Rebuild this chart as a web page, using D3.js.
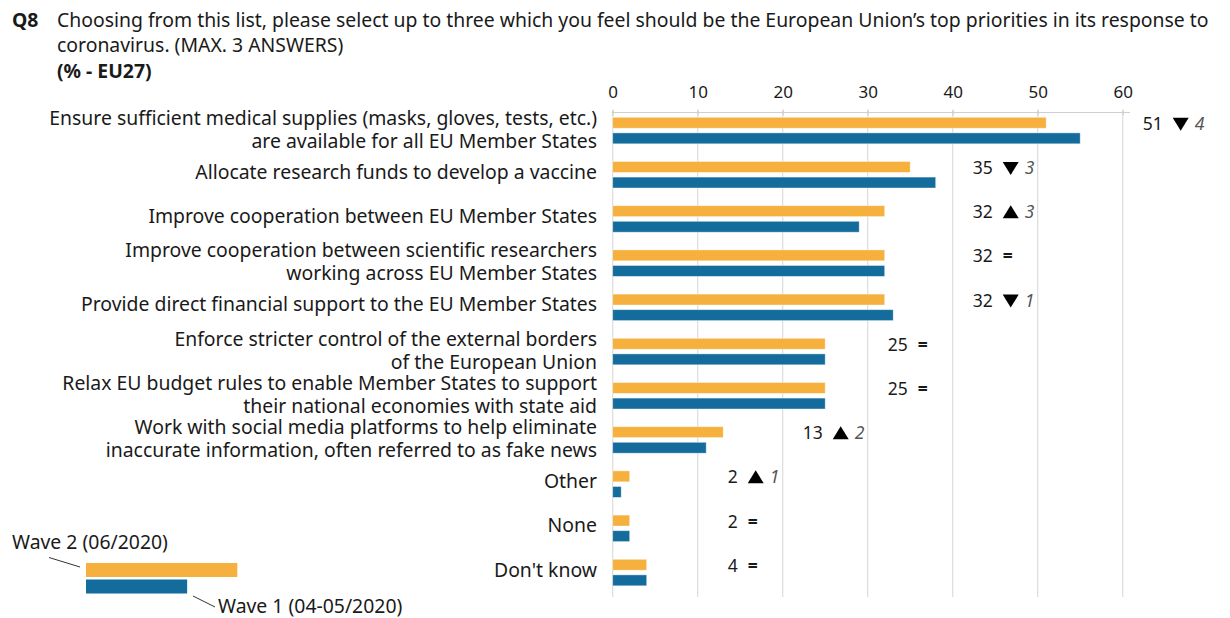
<!DOCTYPE html>
<html>
<head>
<meta charset="utf-8">
<script src="https://cdn.jsdelivr.net/npm/d3@7"></script>
<style>
  html, body { margin: 0; padding: 0; background: #ffffff; }
  svg { display: block; font-family: "Noto Sans", "Open Sans", sans-serif; }
</style>
</head>
<body>
<svg id="chart" width="1230" height="618"></svg>
<script>
// ---------- data ----------
const categories = [
  ["Ensure sufficient medical supplies (masks, gloves, tests, etc.)", "are available for all EU Member States"],
  ["Allocate research funds to develop a vaccine"],
  ["Improve cooperation between EU Member States"],
  ["Improve cooperation between scientific researchers", "working across EU Member States"],
  ["Provide direct financial support to the EU Member States"],
  ["Enforce stricter control of the external borders", "of the European Union"],
  ["Relax EU budget rules to enable Member States to support", "their national economies with state aid"],
  ["Work with social media platforms to help eliminate", "inaccurate information, often referred to as fake news"],
  ["Other"],
  ["None"],
  ["Don't know"]
];
const wave2 = [51, 35, 32, 32, 32, 25, 25, 13, 2, 2, 4];
const wave1 = [55, 38, 29, 32, 33, 25, 25, 11, 1, 2, 4];
const seriesNames = ["Wave 2 (06/2020)", "Wave 1 (04-05/2020)"];
const tickValues = [0, 10, 20, 30, 40, 50, 60];
const titleQ = "Q8";
const titleLines = [
  "Choosing from this list, please select up to three which you feel should be the European Union\u2019s top priorities in its response to",
  "coronavirus. (MAX. 3 ANSWERS)"
];
const subtitle = "(% - EU27)";

// ---------- styles ----------
const orange = "#F6B03D";
const blue = "#136C9B";
const textColor = "#1a1a1a";
const mainSize = 19.4;

const svg = d3.select("#chart");

// ---------- scales ----------
const x = d3.scaleLinear().domain([0, 60]).range([612.7, 1122.7]);
const idx = d3.range(categories.length);
const y = d3.scaleBand().domain(idx).range([108.3, 594.5]).paddingInner(0).paddingOuter(0);
// two bars inside each band: wave 2 on top, wave 1 below
const sub = d3.scaleBand().domain([0, 1]).range([9, 35.5]).paddingInner(0.3).paddingOuter(0);

// ---------- title ----------
svg.append("text").attr("x", 12).attr("y", 27)
  .attr("font-size", mainSize).attr("font-weight", "bold").attr("fill", textColor).text(titleQ);
svg.append("text").attr("x", 57).attr("y", 27).attr("font-size", mainSize).attr("fill", textColor)
  .text(titleLines[0]);
svg.append("text").attr("x", 57).attr("y", 52).attr("font-size", mainSize).attr("fill", textColor)
  .text(titleLines[1]);
svg.append("text").attr("x", 57).attr("y", 78).attr("font-size", mainSize).attr("font-weight", "bold")
  .attr("fill", textColor).text(subtitle);

// ---------- gridlines ----------
svg.append("g").selectAll("line").data(tickValues).join("line")
  .attr("x1", d => x(d)).attr("x2", d => x(d))
  .attr("y1", 110).attr("y2", 597)
  .attr("stroke", "#dcdcdc").attr("stroke-width", 1.2);

// ---------- axis on top ----------
const axis = d3.axisTop(x).tickValues(tickValues).tickSize(5).tickPadding(10).tickFormat(d3.format("d"));
const ag = svg.append("g").attr("transform", "translate(0,112.5)").call(axis);
ag.select(".domain").attr("stroke", "#cfcfcf").attr("d", `M${x(0) - 1},0H1130`);
ag.selectAll(".tick line").attr("stroke", "#cfcfcf").attr("y1", 3).attr("y2", -3);
ag.selectAll(".tick text").attr("font-size", 17).attr("fill", textColor)
  .attr("font-family", "\"Noto Sans\", sans-serif");

// ---------- bars ----------
const bars = svg.append("g");
const series = [wave2, wave1];
const colors = [orange, blue];
series.forEach((vals, s) => {
  bars.append("g").selectAll("rect").data(idx).join("rect")
    .attr("x", x(0))
    .attr("y", i => y(i) + sub(s))
    .attr("width", i => x(vals[i]) - x(0))
    .attr("height", sub.bandwidth())
    .attr("fill", colors[s])
    .attr("stroke", "#ffffff").attr("stroke-opacity", 0.5).attr("stroke-width", 0.8);
});

// ---------- category labels ----------
const lab = svg.append("g").attr("font-size", mainSize).attr("fill", textColor).attr("text-anchor", "end");
idx.forEach(i => {
  const c = y(i) + y.bandwidth() / 2;
  const lines = categories[i];
  const offs = lines.length === 2 ? [-12.5, 10.5] : [-2.5];
  lines.forEach((ln, k) => {
    lab.append("text").attr("x", 597).attr("y", c + offs[k]).attr("dy", "0.35em").text(ln);
  });
});

// ---------- value + change annotations ----------
const ann = svg.append("g").attr("font-size", 17.5).attr("fill", textColor);
idx.forEach(i => {
  const v2 = wave2[i], v1 = wave1[i];
  const diff = v2 - v1;
  const ref = Math.ceil(Math.max(v2, v1) / 10) * 10;
  const right = x(ref) + 40;
  const cy = y(i) + sub(0) + sub.bandwidth() / 2 + 1;
  ann.append("text").attr("x", right).attr("y", cy).attr("dy", "0.35em")
    .attr("text-anchor", "end").text(v2);
  const sx = right + 10;
  if (diff === 0) {
    ann.append("text").attr("x", sx).attr("y", cy).attr("dy", "0.35em")
      .attr("font-weight", "bold").text("=");
  } else {
    const up = diff > 0;
    const tri = up
      ? `M${sx},${cy + 6}L${sx + 16},${cy + 6}L${sx + 8},${cy - 7}Z`
      : `M${sx},${cy - 6}L${sx + 16},${cy - 6}L${sx + 8},${cy + 7}Z`;
    ann.append("path").attr("d", tri).attr("fill", "#000");
    ann.append("text").attr("x", sx + 22).attr("y", cy).attr("dy", "0.35em")
      .attr("font-style", "italic").attr("fill", "#555").text(Math.abs(diff));
  }
});

// ---------- legend ----------
const lg = svg.append("g");
lg.append("rect").attr("x", 86).attr("y", 563).attr("width", x(17.8) - x(0)).attr("height", 14).attr("fill", orange);
lg.append("rect").attr("x", 86).attr("y", 579.5).attr("width", x(11.9) - x(0)).attr("height", 14).attr("fill", blue);
lg.append("line").attr("x1", 49).attr("y1", 557.5).attr("x2", 80).attr("y2", 567)
  .attr("stroke", "#333").attr("stroke-width", 1);
lg.append("line").attr("x1", 193).attr("y1", 596).attr("x2", 215).attr("y2", 607)
  .attr("stroke", "#333").attr("stroke-width", 1);
lg.append("text").attr("x", 12).attr("y", 549).attr("font-size", mainSize).attr("fill", textColor).text(seriesNames[0]);
lg.append("text").attr("x", 218).attr("y", 613).attr("font-size", mainSize).attr("fill", textColor).text(seriesNames[1]);
</script>
</body>
</html>
